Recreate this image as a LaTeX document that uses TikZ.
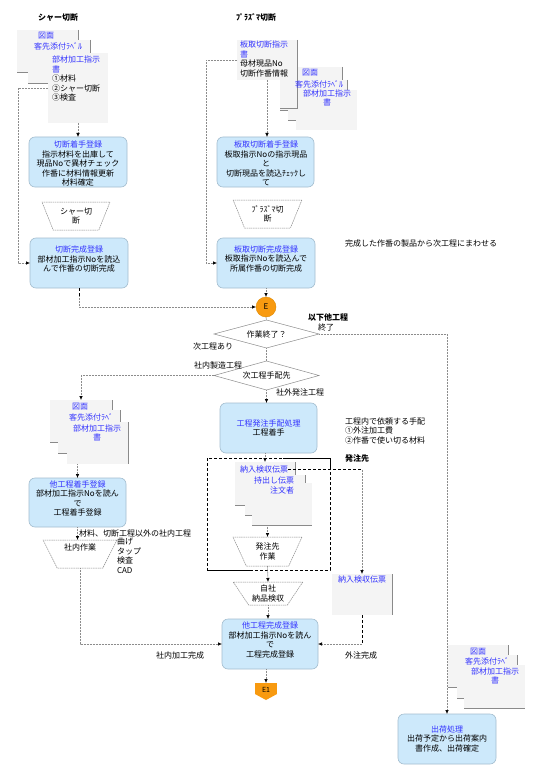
\documentclass[tikz,border=0pt]{standalone}
\usepackage{fontspec}
\setmainfont{Noto Sans CJK JP}
\usetikzlibrary{shapes.geometric,arrows.meta}
\definecolor{txtblue}{HTML}{3333FF}
\definecolor{boxfill}{HTML}{CDE9FB}
\definecolor{boxdraw}{HTML}{A3BDCF}
\definecolor{docfill}{HTML}{F4F4F4}
\definecolor{docline}{HTML}{8A8A8A}
\definecolor{connc}{HTML}{8C8C8C}
\definecolor{orng}{HTML}{F89A10}
\definecolor{orngd}{HTML}{E08A00}
\newcommand{\bluetxt}[1]{\textcolor{txtblue}{#1}}
\begin{document}
\begin{tikzpicture}[x=1pt,y=-1pt,
  every node/.style={font=\fontsize{8}{9.5}\selectfont, inner sep=0pt, outer sep=0pt},
  proc/.style={draw=boxdraw, fill=boxfill, rounded corners=6pt, line width=0.6pt},
  docbox/.style={fill=docfill},
  dline/.style={draw=docline, line width=0.6pt},
  trap/.style={trapezium, shape border rotate=180, trapezium stretches=true, draw=connc, dash pattern=on 1.5pt off 0.7pt, line width=0.5pt, align=center},
  dia/.style={diamond, aspect=3.75, draw=connc, line width=0.5pt},
  conn/.style={draw=connc, dash pattern=on 1pt off 0.5pt, line width=0.6pt},
  arr/.style={conn, -{Latex[length=4pt,width=3.5pt,color=black]}},
  bdash/.style={draw=black, dash pattern=on 3pt off 2pt, line width=0.8pt},
  lbl/.style={align=center},
  lbll/.style={align=left, anchor=north west},
  bold/.style={font=\fontsize{8}{9.5}\selectfont\bfseries},
]
\fill[white] (0,0) rectangle (541,778);
\useasboundingbox (0,0) rectangle (541,778);

% titles
\node[bold] (t1) at (58,17.5) {シャー切断};
\node[bold] (t2) at (256,17.5) {ﾌﾟﾗｽﾞﾏ切断};

% top-left documents
\node[docbox, minimum width=61, minimum height=42] (dA1) at (47.5,51) {};
\draw[dline] (dA1.north east) -- (dA1.south east) -- (dA1.south west);
\node[docbox, minimum width=62, minimum height=43] (dA2) at (59,61.5) {};
\draw[dline] (dA2.north east) -- (dA2.south east) -- (dA2.south west);
\node[docbox, minimum width=60, minimum height=70] (dA3) at (78,88) {};
\node (dA1t) at (46,35.5) {\bluetxt{図面}};
\node (dA2t) at (58,46.5) {\bluetxt{客先添付ﾗﾍﾞﾙ}};
\node[lbll] (dA3t) at (52,56) {\bluetxt{部材加工指示}\\\bluetxt{書}\\①材料\\②シャー切断\\③検査};

% plasma documents
\node[docbox, minimum width=60, minimum height=40] (dB0) at (267,60) {};
\node[docbox, minimum width=62, minimum height=43] (dB1) at (311,88.5) {};
\draw[dline] (dB1.north east) -- (dB1.south east) -- (dB1.south west);
\node[docbox, minimum width=59, minimum height=40] (dB2) at (317.5,100) {};
\draw[dline] (dB2.north east) -- (dB2.south east) -- (dB2.south west);
\node[docbox, minimum width=61, minimum height=40] (dB3) at (326.5,110) {};
\draw[dline] (dB0.north east) -- ++(0,68) -- ++(-17,0);
\node[lbll] (dB0t) at (240,41) {\bluetxt{板取切断指示}\\\bluetxt{書}\\母材現品No\\切断作番情報};
\node (dB1t) at (310,72.5) {\bluetxt{図面}};
\node (dB2t) at (319,84) {\bluetxt{客先添付ﾗﾍﾞﾙ}};
\node[lbl] (dB3t) at (327,98) {\bluetxt{部材加工指示}\\\bluetxt{書}};

% cutting process boxes
\node[proc, minimum width=98, minimum height=50] (pA1) at (78,162) {};
\node[lbl] (pA1t) at (78,163.5) {\bluetxt{切断着手登録}\\指示材料を出庫して\\現品Noで異材チェック\\作番に材料情報更新\\材料確定};
\node[proc, minimum width=97, minimum height=50] (pB1) at (265.5,162) {};
\node[lbl] (pB1t) at (266,163.5) {\bluetxt{板取切断着手登録}\\板取指示Noの指示現品\\と\\切断現品を読込ﾁｪｯｸし\\て};
\node[trap, trapezium angle=65, minimum width=68, minimum height=28] (trA) at (76,216) {シャー切\\断};
\node[trap, trapezium angle=65, minimum width=69, minimum height=28] (trB) at (267.5,214) {ﾌﾟﾗｽﾞﾏ切\\断};
\node[proc, minimum width=98, minimum height=50] (pA2) at (79,263) {};
\node[lbl] (pA2t) at (79,259) {\bluetxt{切断完成登録}\\部材加工指示Noを読込\\んで作番の切断完成};
\node[proc, minimum width=98, minimum height=50] (pB2) at (266,263) {};
\node[lbl] (pB2t) at (266,258.5) {\bluetxt{板取切断完成登録}\\板取指示Noを読込んで\\所属作番の切断完成};
\node (note1) at (421,243) {完成した作番の製品から次工程にまわせる};

% E and decisions
\node[circle, fill=orng, draw=orngd, minimum size=20] (E) at (266,307) {E};
\node[dia, minimum width=105, minimum height=28] (dia1) at (266.5,334) {作業終了？};
\node[dia, minimum width=105, minimum height=29] (dia2) at (266.5,375.5) {次工程手配先};
\node[bold] (l1) at (328,317) {以下他工程};
\node (l2) at (326,327.5) {終了};
\node (l3) at (213,346.5) {次工程あり};
\node (l4) at (218,365) {社内製造工程};
\node (l5) at (300,392.5) {社外発注工程};

% left middle documents
\node[docbox, minimum width=62, minimum height=42] (dC1) at (81,421) {};
\draw[dline] (dC1.north east) -- (dC1.south east) -- (dC1.south west);
\node[docbox, minimum width=62, minimum height=43] (dC2) at (89,431.5) {};
\draw[dline] (dC2.north east) -- (dC2.south east) -- (dC2.south west);
\node[docbox, minimum width=61, minimum height=42] (dC3) at (97.5,443) {};
\draw[dline] (dC3.north east) -- (dC3.south east);
\node (dC1t) at (80,407) {\bluetxt{図面}};
\node (dC2t) at (91,417.5) {\bluetxt{客先添付ﾗﾍﾞ}};
\node[lbl] (dC3t) at (97,433) {\bluetxt{部材加工指示}\\\bluetxt{書}};

\node[proc, minimum width=97, minimum height=49] (pC) at (77.5,502.5) {};
\node[lbl] (pCt) at (77.5,498.5) {\bluetxt{他工程着手登録}\\部材加工指示Noを読ん\\で\\工程着手登録};
\node[anchor=west] (l6) at (79,533.5) {材料、切断工程以外の社内工程};
\node[lbll] (l7) at (117,538) {曲げ\\タップ\\検査\\CAD};
\node[trap, trapezium angle=64, minimum width=74, minimum height=28] (trE) at (80,554) {社内作業\\[4pt]};

% order process
\node[proc, minimum width=97, minimum height=50] (pH) at (268.5,428) {};
\node[lbl] (pHt) at (268.5,428) {\bluetxt{工程発注手配処理}\\工程着手};
\node[lbll] (l8) at (345,417.5) {工程内で依頼する手配\\①外注加工費\\②作番で使い切る材料};
\node[bold, anchor=west] (l9) at (345,458) {発注先};

% frame
\node[minimum width=123, minimum height=112] (frm) at (268.5,514) {};
\draw[bdash] (frm.north west) rectangle (frm.south east);
\draw[black, line width=0.8pt] (frm.north east) ++(-47,0) -- (frm.north east) -- ++(0,10);
\draw[black, line width=0.8pt] (frm.south west) -- ++(43,0);

% inner documents
\node[docbox, minimum width=60, minimum height=43] (dF1) at (265,483.5) {};
\draw[dline] (dF1.north east) -- (dF1.south east) -- (dF1.south west);
\node[docbox, minimum width=60, minimum height=40] (dF2) at (275,495) {};
\draw[dline] (dF2.north east) -- (dF2.south east) -- (dF2.south west);
\node[docbox, minimum width=60, minimum height=42] (dF3) at (282,504) {};
\draw[dline] (dF3.south west) -- (dF3.south east);
\node (dF1t) at (264,469.5) {\bluetxt{納入検収伝票}};
\node (dF2t) at (274,480) {\bluetxt{持出し伝票}};
\node (dF3t) at (282,490) {\bluetxt{注文者}};

\node[trap, trapezium angle=66, minimum width=69, minimum height=29] (trC) at (267.5,551.5) {発注先\\作業};
\node[trap, trapezium angle=53, minimum width=70, minimum height=23] (trD) at (268,593.5) {自社\\納品検収};

% outer document
\node[docbox, minimum width=60, minimum height=41] (dE) at (362,594.5) {};
\draw[dline] (dE.north east) -- (dE.south east);
\node (dEt) at (362,579.5) {\bluetxt{納入検収伝票}};

% completion
\node[proc, minimum width=96, minimum height=50] (pD) at (270,644) {};
\node[lbl] (pDt) at (270,640) {\bluetxt{他工程完成登録}\\部材加工指示Noを読ん\\で\\工程完成登録};
\node (l10) at (180,655.5) {社内加工完成};
\node (l11) at (361,655.5) {外注完成};
\node[fill=orng, minimum width=22, minimum height=11] (E1) at (266,688.5) {};
\fill[orng] (E1.south west) -- (E1.south east) -- ++(-11,6) -- cycle;
\node (E1t) at (266,689.5) {\fontsize{7}{8}\selectfont E1};

% bottom-right documents
\node[docbox, minimum width=60, minimum height=42] (dD1) at (478,666) {};
\draw[dline] (dD1.north east) -- (dD1.south east) -- (dD1.south west);
\node[docbox, minimum width=60, minimum height=43] (dD2) at (487,676.5) {};
\draw[dline] (dD2.north east) -- (dD2.south east) -- (dD2.south west);
\node[docbox, minimum width=61, minimum height=43] (dD3) at (494.5,686.5) {};
\draw[dline] (dD3.south west) -- (dD3.south east);
\node (dD1t) at (478,651.5) {\bluetxt{図面}};
\node (dD2t) at (487,661.5) {\bluetxt{客先添付ﾗﾍﾞ}};
\node[lbl] (dD3t) at (495,676) {\bluetxt{部材加工指示}\\\bluetxt{書}};

\node[proc, minimum width=98, minimum height=50] (pS) at (447,739) {};
\node[lbl] (pSt) at (447,738.5) {\bluetxt{出荷処理}\\出荷予定から出荷案内\\書作成、出荷確定};

% connectors
\draw[arr] (dA3.south) -- (pA1.north);
\draw[arr] (dA3.west) -- ++(-30,0) |- (pA2.west);
\draw[arr] (dB0.south) -- (dB0.south |- pB1.north);
\draw[arr] (dB0.west) -- ++(-31,0) |- (pB2.west);
\draw[arr] (pB2.south) -- (E.north);
\draw[bdash] (pA2.south) -- ++(0,8);
\draw[arr] (pA2.south) ++(0,8) |- (E.west);
\draw[conn] (E.south) -- (dia1.north);
\draw[conn] (dia1.south) -- (dia2.north);
\draw[arr] (dia2.south) -- (dia2.south |- pH.north);
\draw[arr] (dia2.west) -| (dC1.north);
\draw[arr] (dia1.east) -| (pS.north);
\draw[arr] (dC3.south -| pC.north) -- (pC.north);
\draw[arr] (pC.south) -- (pC.south |- trE.north);
\draw[arr] (trE.south) |- (pD.west);
\draw[arr] (pH.south -| dF1.north) -- (dF1.north);
\draw[arr] (dF3.south -| trC.north) -- (trC.north);
\draw[arr] (trC.south) -- (trD.north);
\draw[arr] (trD.south) -- (trD.south |- pD.north);
\draw[arr] (pD.south -| E1.north) -- (E1.north);
\draw[bdash] (dF1t.east) -- (dE.north |- dF1t.east);
\draw[arr] (dE.north |- dF1t.east) -- (dE.north);
\draw[bdash] (dE.south) -- (dE.south |- pD.east);
\draw[arr] (dE.south |- pD.east) -- (pD.east);
\end{tikzpicture}
\end{document}
